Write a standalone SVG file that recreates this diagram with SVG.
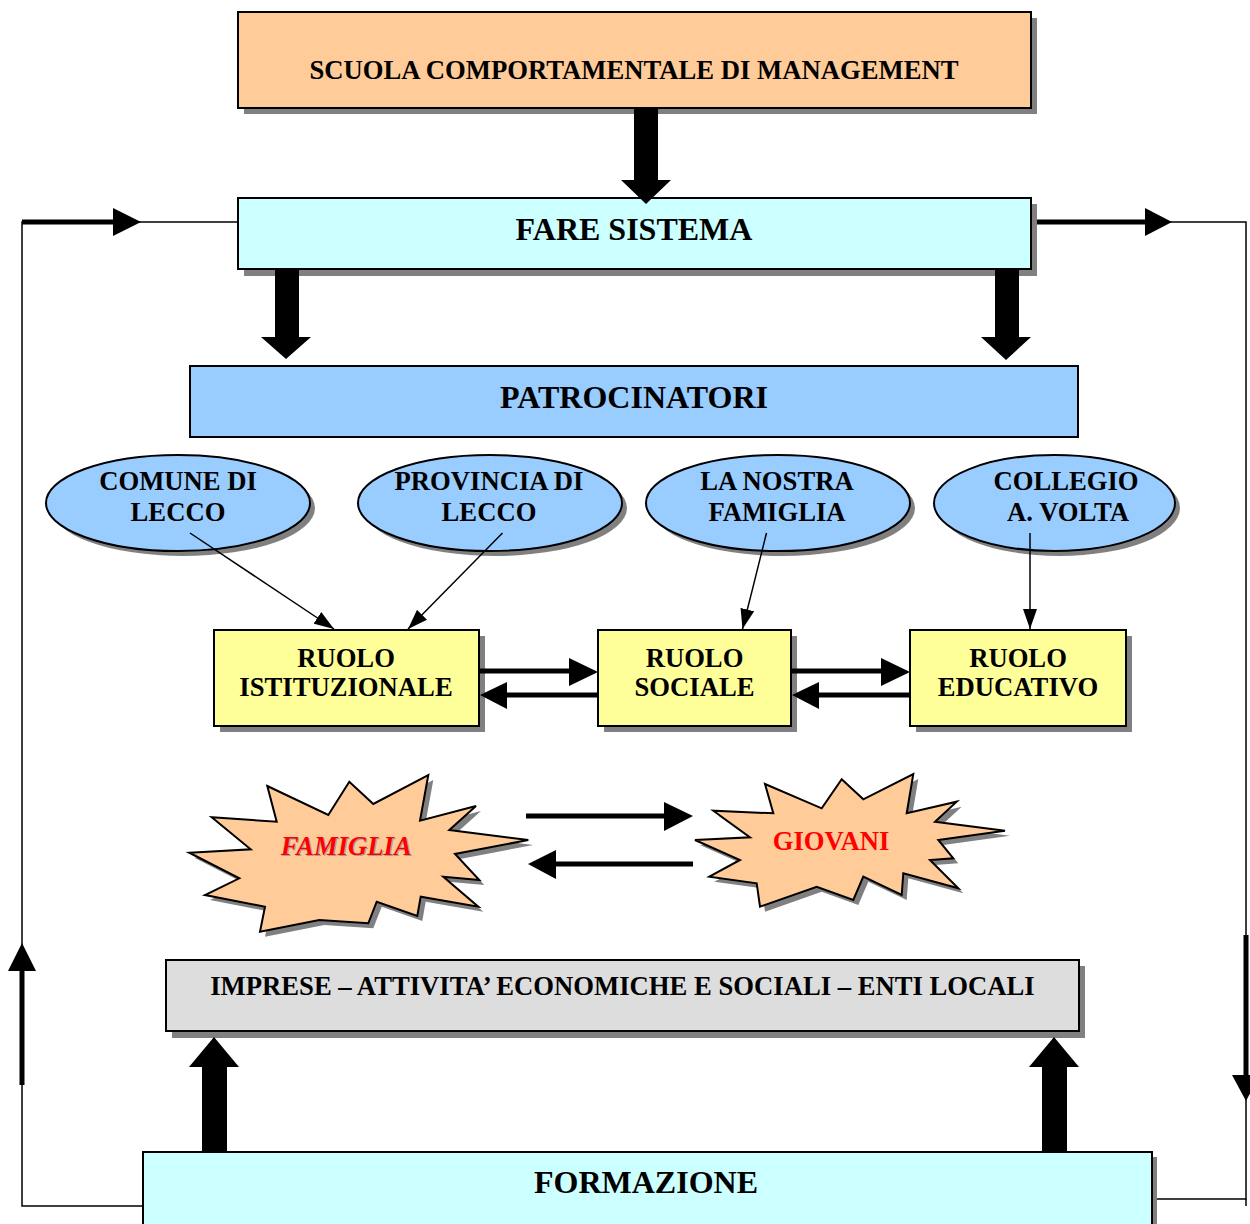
<svg xmlns="http://www.w3.org/2000/svg" width="1250" height="1224" viewBox="0 0 1250 1224">
<style>
.t{font-family:"Liberation Serif","Times New Roman",serif;font-weight:bold;fill:#000;text-anchor:middle}
.big{font-size:32px}
.mid{font-size:26.67px}
.box{stroke:#000;stroke-width:2}
.sh{fill:#808080;stroke:none}
.thin{fill:none;stroke:#000;stroke-width:1.5}
.thick{fill:none;stroke:#000;stroke-width:5}
.blk{fill:#000;stroke:none}
.red{fill:#FF0000}
</style>
<defs>
<marker id="ah" viewBox="0 0 20 14" refX="20" refY="7" markerWidth="20" markerHeight="14" markerUnits="userSpaceOnUse" orient="auto">
<path d="M0,0 L20,7 L0,14 z" fill="#000"/>
</marker>
<polygon id="star1" points="267.3,786 328.3,815 349.3,781.7 373.3,804 428.3,775 420,820.7 476,806 449.3,830 528.3,840 455,854 479.3,880 443.3,876.7 478.3,906.7 420.7,896.7 417.3,916 376.7,901.7 368.3,923.3 319.3,920 260,931.7 265,906.7 205,895 239.3,878.3 189.3,852.7 250.7,849.3 211.7,817.3 276.7,821.7"/>
<polygon id="star2" points="765,784 821.7,808.3 841.7,779.3 863.3,799.3 913.3,774 906.7,813.3 956.7,801.7 935,821.7 1005,830.7 938.3,840 953.3,858.3 930,860 958.3,888.3 903.3,873.3 901.7,895 863.3,876.7 853.3,900 816.7,886.7 760,906.7 756.7,883.3 709.3,876.7 740,860 695,840 750,837.3 713.3,810.7 773.3,813.3"/>
</defs>
<rect width="1250" height="1224" fill="#fff"/>

<g id="scuola">
<rect class="sh" x="244" y="18" width="793" height="96"/>
<rect class="box" x="238" y="12" width="793" height="96" fill="#FFCC99"/>
<text class="t mid" x="634" y="78.5">SCUOLA COMPORTAMENTALE DI MANAGEMENT</text>
</g>

<g id="fare-sistema">
<rect class="sh" x="244" y="204" width="793" height="72"/>
<rect class="box" x="238" y="198" width="793" height="71" fill="#CCFFFF"/>
<text class="t big" x="634" y="239.5">FARE SISTEMA</text>
</g>

<g id="patrocinatori">
<rect class="box" x="190" y="366" width="888" height="71" fill="#99CCFF"/>
<text class="t big" x="634" y="407.5">PATROCINATORI</text>
</g>

<g id="comune">
<ellipse class="sh" cx="183" cy="508" rx="132" ry="48"/>
<ellipse class="box" cx="178" cy="503" rx="132" ry="48" fill="#99CCFF"/>
<text class="t mid" x="178" y="490">COMUNE DI</text>
<text class="t mid" x="178" y="521">LECCO</text>
</g>

<g id="provincia">
<ellipse class="sh" cx="495" cy="508" rx="132" ry="48"/>
<ellipse class="box" cx="490" cy="503" rx="132" ry="48" fill="#99CCFF"/>
<text class="t mid" x="489" y="490">PROVINCIA DI</text>
<text class="t mid" x="489" y="521">LECCO</text>
</g>

<g id="nostra-famiglia">
<ellipse class="sh" cx="783" cy="508" rx="132" ry="48"/>
<ellipse class="box" cx="778" cy="503" rx="132" ry="48" fill="#99CCFF"/>
<text class="t mid" x="777" y="490">LA NOSTRA</text>
<text class="t mid" x="777" y="521">FAMIGLIA</text>
</g>

<g id="collegio">
<ellipse class="sh" cx="1059.5" cy="508" rx="120.5" ry="48"/>
<ellipse class="box" cx="1054.5" cy="503" rx="120.5" ry="48" fill="#99CCFF"/>
<text class="t mid" x="1066" y="490">COLLEGIO</text>
<text class="t mid" x="1068" y="521">A. VOLTA</text>
</g>

<g id="ruolo-istituzionale">
<rect class="sh" x="220" y="636" width="265" height="96"/>
<rect class="box" x="214" y="630" width="265" height="96" fill="#FFFF99"/>
<text class="t mid" x="346" y="666.5">RUOLO</text>
<text class="t mid" x="346" y="695.5">ISTITUZIONALE</text>
</g>

<g id="ruolo-sociale">
<rect class="sh" x="604" y="636" width="193" height="96"/>
<rect class="box" x="598" y="630" width="193" height="96" fill="#FFFF99"/>
<text class="t mid" x="694.5" y="666.5">RUOLO</text>
<text class="t mid" x="694.5" y="695.5">SOCIALE</text>
</g>

<g id="ruolo-educativo">
<rect class="sh" x="916" y="636" width="216" height="96"/>
<rect class="box" x="910" y="630" width="216" height="96" fill="#FFFF99"/>
<text class="t mid" x="1018" y="666.5">RUOLO</text>
<text class="t mid" x="1018" y="695.5">EDUCATIVO</text>
</g>

<g id="famiglia">
<use href="#star1" class="sh" transform="translate(5,5)"/>
<use href="#star1" fill="#FFCC99" stroke="#000" stroke-width="2" stroke-linejoin="miter"/>
<text class="t mid" x="347.3" y="856" font-style="italic" style="fill:#A0A0A0">FAMIGLIA</text>
<text class="t mid red" x="346.3" y="855" font-style="italic">FAMIGLIA</text>
</g>

<g id="giovani">
<use href="#star2" class="sh" transform="translate(5,5)"/>
<use href="#star2" fill="#FFCC99" stroke="#000" stroke-width="2" stroke-linejoin="miter"/>
<text class="t mid red" x="831" y="849.5">GIOVANI</text>
</g>

<g id="imprese">
<rect class="sh" x="172" y="966" width="913" height="72"/>
<rect class="box" x="166" y="960" width="913" height="71" fill="#DDDDDD"/>
<text class="t mid" x="622.5" y="994.5">IMPRESE – ATTIVITA’ ECONOMICHE E SOCIALI – ENTI LOCALI</text>
</g>

<g id="formazione">
<rect class="sh" x="148" y="1157" width="1009" height="80"/>
<rect class="box" x="143" y="1152" width="1009" height="80" fill="#CCFFFF"/>
<text class="t big" x="646" y="1193">FORMAZIONE</text>
</g>

<g id="connectors">
<polygon class="blk" points="634,108 658,108 658,180 671,180 646,204 621,180 634,180"/>
<polygon class="blk" points="275,270 299,270 299,337 311,337 286,359 261,337 275,337"/>
<polygon class="blk" points="995,270 1019,270 1019,337 1031,337 1006,360 981,337 995,337"/>
<polygon class="blk" points="202,1151 227,1151 227,1067 239,1067 214,1037 189,1067 202,1067"/>
<polygon class="blk" points="1042,1151 1067,1151 1067,1067 1079,1067 1054,1037 1029,1067 1042,1067"/>
<line class="thin" x1="190" y1="533" x2="334" y2="629" marker-end="url(#ah)"/>
<line class="thin" x1="502.5" y1="533" x2="408" y2="629" marker-end="url(#ah)"/>
<line class="thin" x1="766.5" y1="533" x2="742.5" y2="629" marker-end="url(#ah)"/>
<line class="thin" x1="1030" y1="533" x2="1030" y2="629" marker-end="url(#ah)"/>
<line class="thick" x1="480" y1="671" x2="572" y2="671"/>
<polygon class="blk" points="569,658 598,672 569,686"/>
<line class="thick" x1="598" y1="695" x2="504" y2="695"/>
<polygon class="blk" points="507,682 480,695 507,709"/>
<line class="thick" x1="792" y1="671" x2="884" y2="671"/>
<polygon class="blk" points="881,658 910,672 881,686"/>
<line class="thick" x1="910" y1="695" x2="816" y2="695"/>
<polygon class="blk" points="819,682 792,695 819,709"/>
<line class="thick" x1="526" y1="816" x2="667" y2="816"/>
<polygon class="blk" points="664,802 693,816 664,831"/>
<line class="thick" x1="693" y1="864" x2="553" y2="864"/>
<polygon class="blk" points="556,850 528,864 556,879"/>
<polyline class="thin" points="143,1206 22,1206 22,222 238,222"/>
<line class="thick" x1="22" y1="222" x2="116" y2="222"/>
<polygon class="blk" points="113,208 141,222 113,236"/>
<line class="thick" x1="22" y1="1085" x2="22" y2="968"/>
<polygon class="blk" points="8,971 22,943 36,971"/>
<polyline class="thin" points="1037,222 1246,222 1246,1199 1157,1199"/>
<line class="thin" x1="1246" y1="1199" x2="1246" y2="1206"/>
<line class="thick" x1="1037" y1="222" x2="1148" y2="222"/>
<polygon class="blk" points="1145,208 1172,222 1145,236"/>
<line class="thick" x1="1246" y1="935" x2="1246" y2="1078"/>
<polygon class="blk" points="1232,1075 1260,1075 1246,1101"/>
</g>
</svg>
